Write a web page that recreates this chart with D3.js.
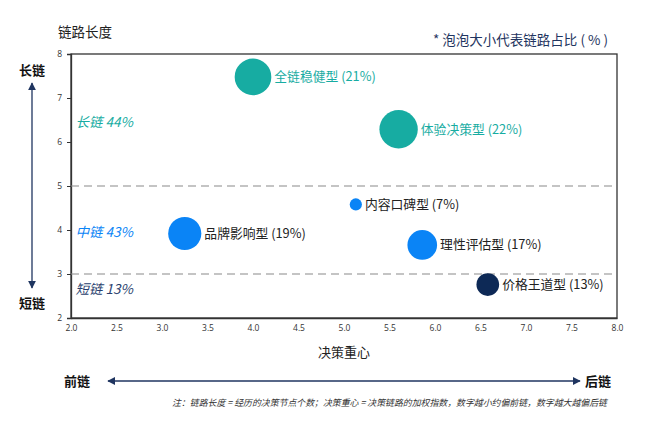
<!DOCTYPE html>
<html><head><meta charset="utf-8">
<script src="https://cdn.jsdelivr.net/npm/d3@7"></script>
<style>body{margin:0;background:#fff;} svg{display:block;font-family:"Noto Sans CJK SC","Noto Sans",sans-serif;}</style>
</head><body><svg id="c" width="660" height="435"></svg>
<script>
const names = ["全链稳健型","体验决策型","品牌影响型","内容口碑型","理性评估型","价格王道型"];
const xVals = [4.0, 5.6, 3.25, 5.13, 5.86, 6.58];
const yVals = [7.48, 6.29, 3.92, 4.58, 3.66, 2.76];
const shares = [21, 22, 19, 7, 17, 13];
const groups = ["long","long","mid","mid","mid","short"];
const xTicks = [2.0,2.5,3.0,3.5,4.0,4.5,5.0,5.5,6.0,6.5,7.0,7.5,8.0];
const yTicks = [2,3,4,5,6,7,8];
const thresholds = [5, 3];
const zoneLabels = ["长链 44%","中链 43%","短链 13%"];
const zoneY = [6.45, 3.95, 2.65];

const colors = {long:"#17aca2", mid:"#0a84f6", short:"#0d2956"};
const labelColors = {long:"#17aca2", mid:"#222", short:"#222"};
const zoneColors = ["#17aca2","#0a84f6","#2a3f6e"];

const svg = d3.select("#c");
const L=71,R=617,T=54,B=318;
const x = d3.scaleLinear().domain([2,8]).range([L,R]);
const y = d3.scaleLinear().domain([2,8]).range([B,T]);
const r = d3.scaleLinear().domain([0,22]).range([0,19.2]);

// frame
svg.append("rect").attr("x",L).attr("y",T).attr("width",R-L).attr("height",B-T)
  .attr("fill","none").attr("stroke","#333").attr("stroke-width",1.3);

// axes
const ax = svg.append("g").attr("transform",`translate(0,${B})`)
  .call(d3.axisBottom(x).tickValues(xTicks).tickFormat(d3.format(".1f")).tickSize(0).tickPadding(7));
const ay = svg.append("g").attr("transform",`translate(${L},0)`)
  .call(d3.axisLeft(y).tickValues(yTicks).tickFormat(d3.format("d")).tickSize(4).tickPadding(5));
[ax,ay].forEach(g=>{
  g.select(".domain").attr("stroke","#333").attr("stroke-width",1.3);
  g.selectAll("text").attr("font-size",8.5).attr("fill","#333").attr("font-family","'Open Sans',sans-serif");
  g.selectAll("line").attr("stroke","#333");
});

// dashed thresholds
svg.selectAll(".th").data(thresholds).enter().append("line")
  .attr("x1",L).attr("x2",R).attr("y1",d=>y(d)).attr("y2",d=>y(d))
  .attr("stroke","#8a8a8a").attr("stroke-width",1.2).attr("stroke-dasharray","8,5");

// zone labels
svg.selectAll(".zl").data(zoneLabels).enter().append("text")
  .attr("x",x(2.05)).attr("y",(d,i)=>y(zoneY[i])).attr("dy","0.35em")
  .attr("font-size",13.5).attr("font-style","italic").attr("fill",(d,i)=>zoneColors[i])
  .text(d=>d);

// bubbles
const data = names.map((n,i)=>({n,x:xVals[i],y:yVals[i],s:shares[i],g:groups[i]}));
svg.selectAll(".b").data(data).enter().append("circle")
  .attr("cx",d=>x(d.x)).attr("cy",d=>y(d.y)).attr("r",d=>r(d.s)).attr("fill",d=>colors[d.g]);
svg.selectAll(".bl").data(data).enter().append("text")
  .attr("x",d=>x(d.x)+r(d.s)+3).attr("y",d=>y(d.y)).attr("dy","0.35em")
  .attr("font-size",12.8).attr("fill",d=>labelColors[d.g])
  .text(d=>`${d.n} (${d.s}%)`);

// titles
svg.append("text").attr("x",58).attr("y",37).attr("font-size",13.5).attr("fill","#222").text("链路长度");
svg.append("text").attr("x",608).attr("y",45).attr("text-anchor","end").attr("font-size",13.5).attr("fill","#1f3560").text("* 泡泡大小代表链路占比 ( % )");
svg.append("text").attr("x",(L+R)/2).attr("y",357).attr("text-anchor","middle").attr("font-size",13).attr("fill","#222").text("决策重心");

// arrows
const defs = svg.append("defs");
defs.append("marker").attr("id","ah").attr("viewBox","0 0 10 10").attr("refX",9).attr("refY",5)
  .attr("markerWidth",6).attr("markerHeight",6).attr("orient","auto-start-reverse")
  .append("path").attr("d","M0,0L10,5L0,10z").attr("fill","#1f3560");
svg.append("line").attr("x1",32).attr("x2",32).attr("y1",83).attr("y2",288)
  .attr("stroke","#1f3560").attr("stroke-width",1.3).attr("marker-start","url(#ah)").attr("marker-end","url(#ah)");
svg.append("line").attr("x1",108).attr("x2",580).attr("y1",381).attr("y2",381)
  .attr("stroke","#1f3560").attr("stroke-width",1.3).attr("marker-start","url(#ah)").attr("marker-end","url(#ah)");

const bold = (t,xx,yy,anchor)=>svg.append("text").attr("x",xx).attr("y",yy).attr("text-anchor",anchor||"middle")
  .attr("dy","0.35em").attr("font-size",13).attr("font-weight","bold").attr("fill","#111").text(t);
bold("长链",32,70);
bold("短链",32,303);
bold("前链",77,381);
bold("后链",598,381);

svg.append("text").attr("x",607).attr("y",406).attr("text-anchor","end").attr("font-size",8.9)
  .attr("font-style","italic").attr("fill","#333")
  .text("注：链路长度 = 经历的决策节点个数；决策重心 = 决策链路的加权指数，数字越小约偏前链，数字越大越偏后链");
</script></body></html>
